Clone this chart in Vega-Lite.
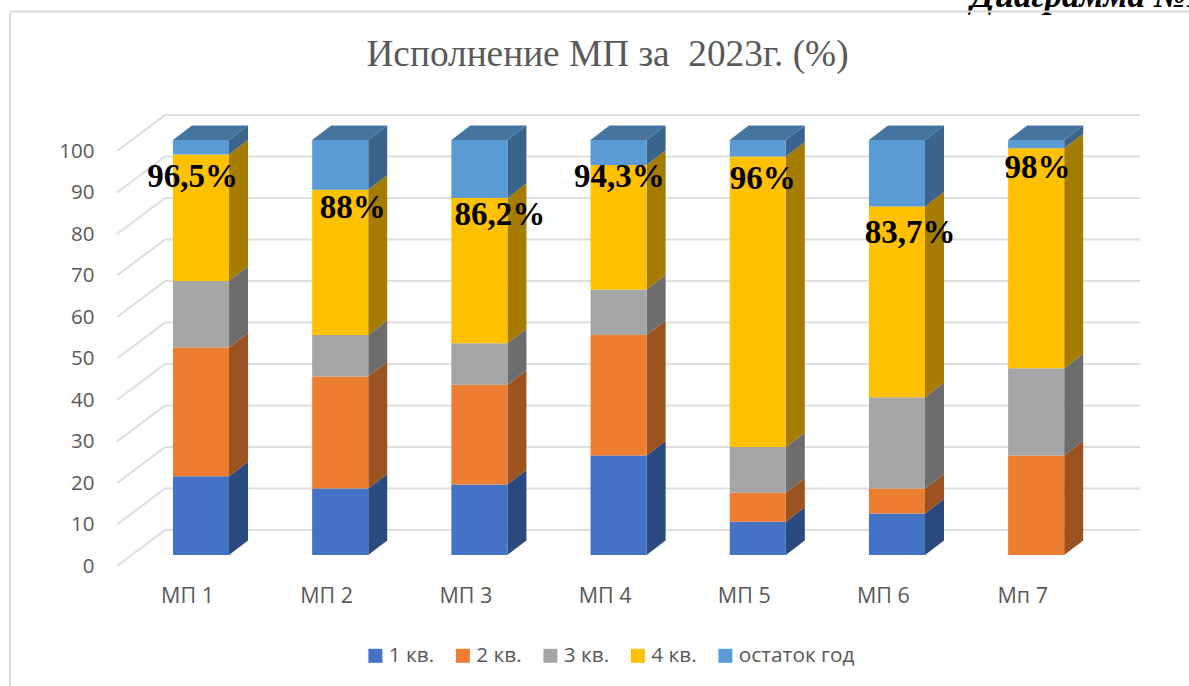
{
"$schema":"https://vega.github.io/schema/vega-lite/v6.json",
"width":1189,"height":686,"padding":0,"autosize":{"type":"none"},
"background":"white",
"view":{"stroke":null},
"title":{"text":"Исполнение МП за\u00a0 2023г. (%)","font":"Liberation Serif","fontSize":37.3,"fontWeight":"normal","color":"#595959","anchor":"middle","offset":-95,"dx":13},
"datasets":{
"ticks":[{"t":0},{"t":10},{"t":20},{"t":30},{"t":40},{"t":50},{"t":60},{"t":70},{"t":80},{"t":90},{"t":100}],
"bars":[
{"mp":"МП 1","idx":1,"q":"1 кв.","o":1,"value":19},{"mp":"МП 1","idx":1,"q":"2 кв.","o":2,"value":31},{"mp":"МП 1","idx":1,"q":"3 кв.","o":3,"value":16},{"mp":"МП 1","idx":1,"q":"4 кв.","o":4,"value":30.5},{"mp":"МП 1","idx":1,"q":"остаток год","o":5,"value":3.5},
{"mp":"МП 2","idx":2,"q":"1 кв.","o":1,"value":16},{"mp":"МП 2","idx":2,"q":"2 кв.","o":2,"value":27},{"mp":"МП 2","idx":2,"q":"3 кв.","o":3,"value":10},{"mp":"МП 2","idx":2,"q":"4 кв.","o":4,"value":35},{"mp":"МП 2","idx":2,"q":"остаток год","o":5,"value":12},
{"mp":"МП 3","idx":3,"q":"1 кв.","o":1,"value":17},{"mp":"МП 3","idx":3,"q":"2 кв.","o":2,"value":24},{"mp":"МП 3","idx":3,"q":"3 кв.","o":3,"value":10},{"mp":"МП 3","idx":3,"q":"4 кв.","o":4,"value":35},{"mp":"МП 3","idx":3,"q":"остаток год","o":5,"value":14},
{"mp":"МП 4","idx":4,"q":"1 кв.","o":1,"value":24},{"mp":"МП 4","idx":4,"q":"2 кв.","o":2,"value":29},{"mp":"МП 4","idx":4,"q":"3 кв.","o":3,"value":11},{"mp":"МП 4","idx":4,"q":"4 кв.","o":4,"value":30},{"mp":"МП 4","idx":4,"q":"остаток год","o":5,"value":6},
{"mp":"МП 5","idx":5,"q":"1 кв.","o":1,"value":8},{"mp":"МП 5","idx":5,"q":"2 кв.","o":2,"value":7},{"mp":"МП 5","idx":5,"q":"3 кв.","o":3,"value":11},{"mp":"МП 5","idx":5,"q":"4 кв.","o":4,"value":70},{"mp":"МП 5","idx":5,"q":"остаток год","o":5,"value":4},
{"mp":"МП 6","idx":6,"q":"1 кв.","o":1,"value":10},{"mp":"МП 6","idx":6,"q":"2 кв.","o":2,"value":6},{"mp":"МП 6","idx":6,"q":"3 кв.","o":3,"value":22},{"mp":"МП 6","idx":6,"q":"4 кв.","o":4,"value":46},{"mp":"МП 6","idx":6,"q":"остаток год","o":5,"value":16},
{"mp":"Мп 7","idx":7,"q":"1 кв.","o":1,"value":0},{"mp":"Мп 7","idx":7,"q":"2 кв.","o":2,"value":24},{"mp":"Мп 7","idx":7,"q":"3 кв.","o":3,"value":21},{"mp":"Мп 7","idx":7,"q":"4 кв.","o":4,"value":53},{"mp":"Мп 7","idx":7,"q":"остаток год","o":5,"value":2}
],
"labels":[
{"label":"96,5%","lx":0.94,"ly":88.6},
{"label":"88%","lx":2.09,"ly":81.3},
{"label":"86,2%","lx":3.148,"ly":79.6},
{"label":"94,3%","lx":4.005,"ly":88.6},
{"label":"96%","lx":5.035,"ly":88.1},
{"label":"83,7%","lx":6.095,"ly":75.1},
{"label":"98%","lx":7.01,"ly":90.8}
],
"notes":[{"label":"Диаграмма №1"}]
},
"layer":[
{"data":{"name":"ticks"},"transform":[{"calculate":"datum.t+6","as":"wall"}],
 "mark":{"type":"rule","stroke":"#dedede","strokeWidth":2},
 "encoding":{
  "x":{"datum":0.741,"type":"quantitative","scale":{"domain":[-0.444,8.098],"nice":false,"zero":false},
   "axis":{"values":[1,2,3,4,5,6,7],"labelExpr":"datum.value==7?'Мп 7':'МП '+datum.value","title":null,"grid":false,"domain":false,"ticks":false,"labelPadding":0,"offset":-101,"labelOffset":-14,"labelFont":"Open Sans","labelFontSize":21.5,"labelColor":"#595959"}},
  "x2":{"datum":7.746},
  "y":{"field":"wall","type":"quantitative","scale":{"domain":[-31.57,133.73],"nice":false,"zero":false},
   "axis":{"values":[0,10,20,30,40,50,60,70,80,90,100],"title":null,"grid":false,"domain":false,"ticks":false,"labelPadding":0,"tickSize":0,"offset":-94,"labelOffset":11.5,"labelFont":"Open Sans","labelFontSize":20.5,"labelColor":"#595959"}}
 }},
{"data":{"name":"ticks"},"transform":[{"calculate":"datum.t+6","as":"wall"},{"calculate":"datum.t-2.65","as":"front"}],
 "mark":{"type":"rule","stroke":"#dedede","strokeWidth":2},
 "encoding":{
  "x":{"datum":0.3966,"type":"quantitative"},
  "x2":{"datum":0.741},
  "y":{"field":"front","type":"quantitative"},
  "y2":{"field":"wall"}
 }},
{"data":{"name":"bars"},
 "transform":[
  {"stack":"value","groupby":["idx"],"sort":[{"field":"o","order":"ascending"}],"as":["y0","y1"]},
  {"calculate":"datum.idx+0.2014","as":"near"},
  {"calculate":"datum.near+0.1365","as":"far"},
  {"fold":["near","far"],"as":["edge","ex"]},
  {"calculate":"datum.y0+(datum.edge=='far'?3.49:0)","as":"low"},
  {"calculate":"datum.y1+(datum.edge=='far'?3.49:0)","as":"high"}
 ],
 "mark":{"type":"area","orient":"vertical","opacity":1},
 "encoding":{
  "x":{"field":"ex","type":"quantitative"},
  "y":{"field":"low","type":"quantitative","stack":null},
  "y2":{"field":"high"},
  "detail":{"field":"idx"},
  "fill":{"field":"q","type":"nominal","legend":null,"scale":{"domain":["1 кв.","2 кв.","3 кв.","4 кв.","остаток год"],"range":["#2a4a80","#9c531f","#6d6d6d","#a67c00","#3a648c"]}}
 }},
{"data":{"name":"bars"},
 "transform":[
  {"stack":"value","groupby":["idx"],"sort":[{"field":"o","order":"ascending"}],"as":["y0","y1"]},
  {"filter":"datum.o==5"},
  {"calculate":"datum.y1","as":"nearTop"},
  {"calculate":"datum.y1+3.49","as":"farTop"},
  {"fold":["nearTop","farTop"],"as":["edge","ty"]},
  {"calculate":"datum.idx-0.2014+(datum.edge=='farTop'?0.1365:0)","as":"xa"},
  {"calculate":"datum.idx+0.2014+(datum.edge=='farTop'?0.1365:0)","as":"xb"}
 ],
 "mark":{"type":"area","orient":"horizontal","color":"#44749f"},
 "encoding":{
  "y":{"field":"ty","type":"quantitative","stack":null},
  "x":{"field":"xa","type":"quantitative","stack":null},
  "x2":{"field":"xb"},
  "detail":{"field":"idx"}
 }},
{"data":{"name":"bars"},
 "transform":[
  {"stack":"value","groupby":["idx"],"sort":[{"field":"o","order":"ascending"}],"as":["y0","y1"]},
  {"calculate":"datum.idx-0.2014","as":"left"},
  {"calculate":"datum.idx+0.2014","as":"right"}
 ],
 "mark":{"type":"rect"},
 "encoding":{
  "x":{"field":"left","type":"quantitative"},
  "x2":{"field":"right"},
  "y":{"field":"y0","type":"quantitative"},
  "y2":{"field":"y1"},
  "color":{"field":"q","type":"nominal","title":null,
   "scale":{"domain":["1 кв.","2 кв.","3 кв.","4 кв.","остаток год"],"range":["#4472c4","#ed7d31","#a5a5a5","#ffc000","#5b9bd5"]},
   "legend":{"orient":"none","legendX":365,"legendY":645,"direction":"horizontal","columns":5,"symbolType":"square","symbolSize":196,"symbolStrokeWidth":0,"labelFont":"Open Sans","labelFontSize":20.8,"labelColor":"#595959","labelOffset":3,"columnPadding":17.5,"labelLimit":200}}
 }},
{"data":{"name":"labels"},
 "mark":{"type":"text","font":"Liberation Serif","fontWeight":"bold","fontSize":33,"color":"black","align":"center","baseline":"alphabetic"},
 "encoding":{
  "x":{"field":"lx","type":"quantitative"},
  "y":{"field":"ly","type":"quantitative"},
  "text":{"field":"label"}
 }},
{"data":{"name":"notes"},
 "mark":{"type":"text","font":"Liberation Serif","fontWeight":"bold","fontStyle":"italic","fontSize":35,"color":"black","align":"left","baseline":"alphabetic"},
 "encoding":{
  "x":{"datum":6.53,"type":"quantitative"},
  "y":{"datum":132,"type":"quantitative"},
  "text":{"field":"label"}
 }},
{"data":{"values":[{"a":1}]},
 "mark":{"type":"rule","stroke":"#d9d9d9","strokeWidth":2},
 "encoding":{
  "x":{"datum":-0.372,"type":"quantitative"},
  "x2":{"datum":8.098},
  "y":{"datum":130.96,"type":"quantitative"}
 }},
{"data":{"values":[{"a":1}]},
 "mark":{"type":"rule","stroke":"#d9d9d9","strokeWidth":2},
 "encoding":{
  "x":{"datum":-0.372,"type":"quantitative"},
  "y":{"datum":130.96,"type":"quantitative"},
  "y2":{"datum":-31.57}
 }}
],
"resolve":{"scale":{"color":"independent","fill":"independent"}}
}
